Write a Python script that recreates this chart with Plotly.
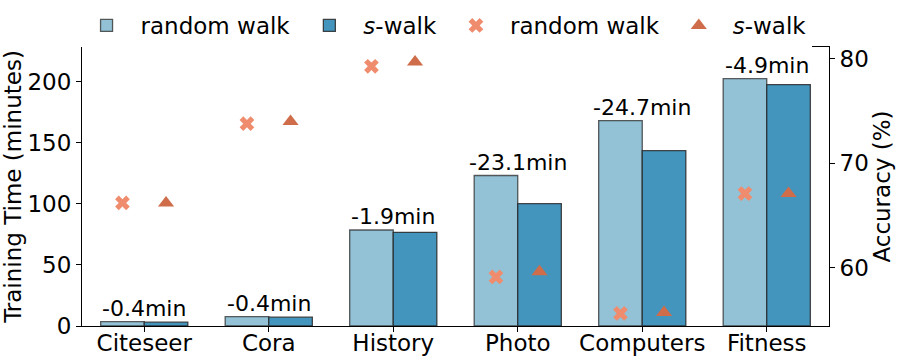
import plotly.graph_objects as go

# data
datasets = ["Citeseer", "Cora", "History", "Photo", "Computers", "Fitness"]
time_random_walk = [3.5, 7.6, 78.6, 123.2, 168.2, 202.5]
time_s_walk = [3.1, 7.2, 76.7, 100.1, 143.5, 197.6]
saving_labels = ["-0.4min", "-0.4min", "-1.9min", "-23.1min", "-24.7min", "-4.9min"]
acc_random_walk = [66.2, 73.8, 79.3, 59.1, 55.6, 67.1]
acc_s_walk = [66.2, 74.0, 79.7, 59.6, 55.7, 67.1]

FONT = "DejaVu Sans"
LIGHT = "#93c2d6"
DARK = "#4395be"
SALMON = "#f08c6e"
RUST = "#cf6d4a"

fig = go.Figure()

fig.add_trace(
    go.Bar(
        x=datasets,
        y=time_random_walk,
        name="random walk",
        offsetgroup="rw",
        marker=dict(color=LIGHT, line=dict(color="rgba(40,40,40,0.75)", width=1.3)),
    )
)
fig.add_trace(
    go.Bar(
        x=datasets,
        y=time_s_walk,
        name="<i>s</i>-walk",
        offsetgroup="sw",
        marker=dict(color=DARK, line=dict(color="rgba(40,40,40,0.85)", width=1.3)),
    )
)

# accuracy markers on the secondary axis, grouped like the bars
fig.add_trace(
    go.Scatter(
        x=datasets,
        y=acc_random_walk,
        name="random walk",
        mode="markers",
        offsetgroup="rw",
        yaxis="y2",
        marker=dict(symbol="x", size=13, color=SALMON, line=dict(width=0)),
    )
)
fig.add_trace(
    go.Scatter(
        x=datasets,
        y=acc_s_walk,
        name="<i>s</i>-walk",
        mode="markers",
        offsetgroup="sw",
        yaxis="y2",
        marker=dict(symbol="triangle-up", size=14, color=RUST, line=dict(width=0)),
    )
)

# saving labels above each group
for name, rw, sw, label in zip(datasets, time_random_walk, time_s_walk, saving_labels):
    fig.add_annotation(
        x=name,
        y=max(rw, sw),
        text=label,
        showarrow=False,
        yanchor="bottom",
        yshift=-1,
        font=dict(family=FONT, size=22, color="black"),
    )

fig.update_layout(
    width=897,
    height=361,
    margin=dict(l=82, r=68, t=47, b=35, autoexpand=False),
    plot_bgcolor="white",
    paper_bgcolor="white",
    font=dict(family=FONT, size=23, color="black"),
    barmode="group",
    bargap=0.3,
    bargroupgap=0,
    scattermode="group",
    scattergap=0.3,
    legend=dict(
        orientation="h",
        x=0.482,
        xanchor="center",
        y=1.0,
        yanchor="bottom",
        font=dict(family=FONT, size=23),
        itemwidth=58,
        tracegroupgap=0,
    ),
    xaxis=dict(
        showline=True,
        linecolor="black",
        linewidth=1,
        mirror=True,
        ticks="outside",
        ticklen=5,
        tickcolor="black",
        tickfont=dict(size=23),
        ticklabelstandoff=-9,
        showgrid=False,
    ),
    yaxis=dict(
        title=dict(text="Training Time (minutes)", standoff=4, font=dict(size=23)),
        range=[0, 228.4],
        tickvals=[0, 50, 100, 150, 200],
        showline=True,
        linecolor="black",
        linewidth=1,
        ticks="outside",
        ticklen=5,
        tickcolor="black",
        tickfont=dict(size=23),
        showgrid=False,
        zeroline=False,
    ),
    yaxis2=dict(
        title=dict(text="Accuracy (%)", standoff=4, font=dict(size=23)),
        overlaying="y",
        side="right",
        range=[54.4, 81.15],
        tickvals=[60, 70, 80],
        showline=True,
        linecolor="black",
        linewidth=1,
        ticks="outside",
        ticklen=5,
        tickcolor="black",
        tickfont=dict(size=23),
        showgrid=False,
        zeroline=False,
    ),
)

# the page body has a default margin; drop it so the figure fills the window
fig.write_html(
    "out.html",
    config={"displayModeBar": False},
    post_script="document.body.style.margin='0';",
)
